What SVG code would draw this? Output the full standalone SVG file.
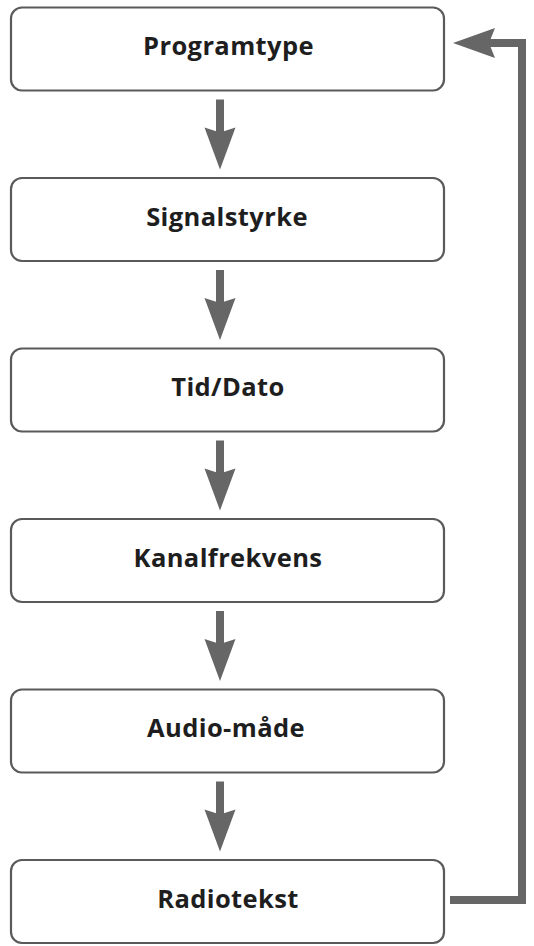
<svg xmlns="http://www.w3.org/2000/svg" width="534" height="946" viewBox="0 0 534 946">
<style>
.box{fill:#fff;stroke:#5a5a5a;stroke-width:2.2}
.lbl{font-family:"Open Sans","Liberation Sans",sans-serif;font-weight:700;font-size:25.5px;letter-spacing:0.4px;fill:#1e1e1e;text-anchor:middle}
.shaft{fill:#666}
.line{fill:none;stroke:#666;stroke-width:8;stroke-linejoin:miter}
</style>
<rect width="534" height="946" fill="#fff"/>
<g id="connectors">
  <path class="shaft" d="M216,99.5H224V133H216Z M220,169.5L204.5,127.5L220,132.5L235.5,127.5Z"/>
  <path class="shaft" d="M216,270H224V304H216Z M220,340L204.5,298L220,303L235.5,298Z"/>
  <path class="shaft" d="M216,440.5H224V474H216Z M220,510.5L204.5,468.5L220,473.5L235.5,468.5Z"/>
  <path class="shaft" d="M216,611H224V645H216Z M220,681L204.5,639L220,644L235.5,639Z"/>
  <path class="shaft" d="M216,781.5H224V815H216Z M220,851.5L204.5,809.5L220,814.5L235.5,809.5Z"/>
  <path class="line" d="M450,900H522V43H488"/>
  <path class="shaft" d="M453,43L495,28L489,43L495,58Z"/>
</g>
<g id="n1"><rect class="box" x="11" y="7.5" width="433" height="83" rx="11"/><text class="lbl" x="228.5" y="55">Programtype</text></g>
<g id="n2"><rect class="box" x="11" y="178" width="433" height="83" rx="11"/><text class="lbl" x="227" y="225.5">Signalstyrke</text></g>
<g id="n3"><rect class="box" x="11" y="348.5" width="433" height="83" rx="11"/><text class="lbl" x="228" y="396">Tid/Dato</text></g>
<g id="n4"><rect class="box" x="11" y="519" width="433" height="83" rx="11"/><text class="lbl" x="228" y="566.5">Kanalfrekvens</text></g>
<g id="n5"><rect class="box" x="11" y="689.5" width="433" height="83" rx="11"/><text class="lbl" x="226" y="737">Audio-måde</text></g>
<g id="n6"><rect class="box" x="11" y="860" width="433" height="83" rx="11"/><text class="lbl" x="228" y="907.5">Radiotekst</text></g>
</svg>
